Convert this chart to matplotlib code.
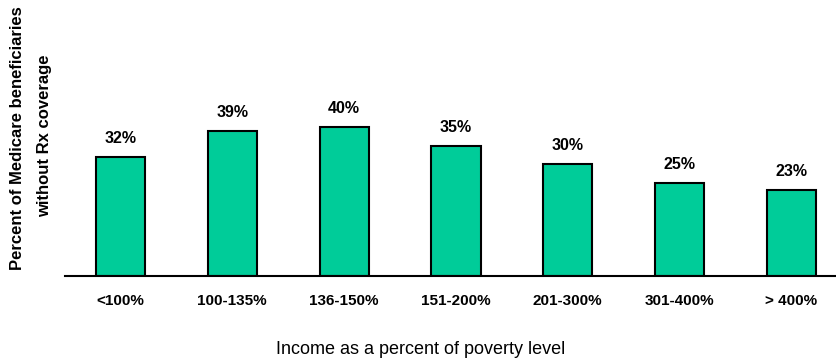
import matplotlib.pyplot as plt

plt.rcParams['font.family'] = ['Liberation Sans', 'DejaVu Sans']

categories = ["<100%", "100-135%", "136-150%", "151-200%", "201-300%", "301-400%", "> 400%"]
values = [32, 39, 40, 35, 30, 25, 23]
value_labels = ["32%", "39%", "40%", "35%", "30%", "25%", "23%"]

fig = plt.figure(figsize=(8.37, 3.58), dpi=100)
ax = fig.add_axes([65 / 837, 82 / 358, 1 - 65 / 837, 1 - 82 / 358])

x = range(len(categories))
bars = ax.bar(x, values, width=0.44, color='#00CC99', edgecolor='black', linewidth=1.5)

for b, lab in zip(bars, value_labels):
    ax.annotate(lab, (b.get_x() + b.get_width() / 2, b.get_height()),
                xytext=(0, 8), textcoords='offset points',
                ha='center', va='bottom', fontsize=11.5, fontweight='bold')

ax.set_xlim(-0.496, 6.407)
ax.set_ylim(0, 74.2)
ax.set_xticks(list(x))
ax.set_xticklabels(categories, fontsize=11, fontweight='bold')
ax.tick_params(axis='x', length=0, pad=13)
ax.set_yticks([])

for s in ['top', 'right', 'left']:
    ax.spines[s].set_visible(False)
ax.spines['bottom'].set_linewidth(1.5)

fig.text(421 / 837, 1 - 350 / 358, "Income as a percent of poverty level",
         ha='center', va='center', fontsize=13)
fig.text(18 / 837, 1 - 138 / 358, "Percent of Medicare beneficiaries",
         rotation=90, ha='center', va='center', fontsize=12, fontweight='bold')
fig.text(45 / 837, 1 - 136 / 358, "without Rx coverage",
         rotation=90, ha='center', va='center', fontsize=12, fontweight='bold')

fig.savefig("out.png", dpi=100)
